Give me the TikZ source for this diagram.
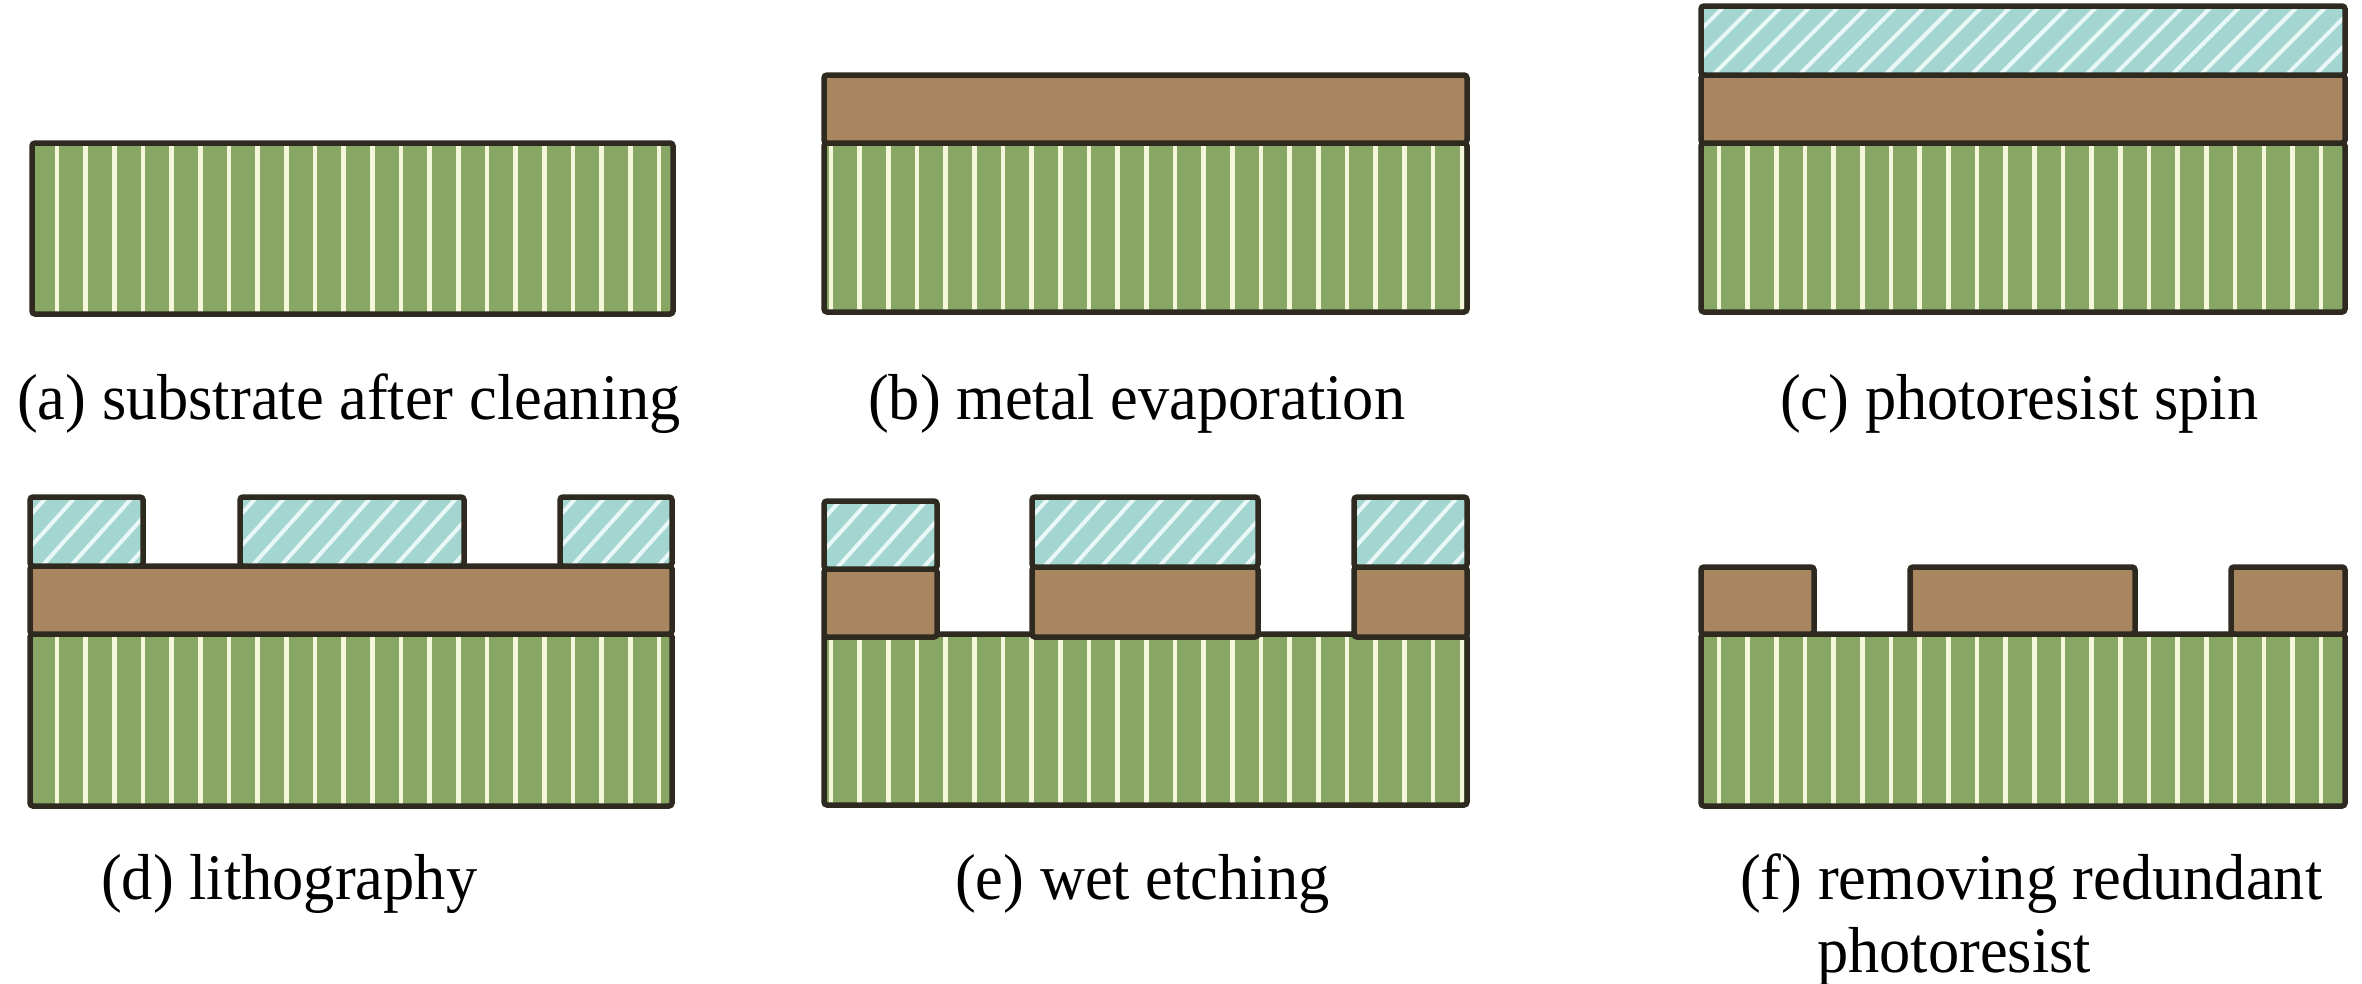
\documentclass[tikz,border=0pt]{standalone}
\usepackage{fontspec}
\setmainfont[FakeStretch=0.96]{Liberation Serif}
\definecolor{edge}{HTML}{2E2A20}
\definecolor{subfill}{HTML}{88A765}
\definecolor{substripe}{HTML}{F4F7DA}
\definecolor{metalfill}{HTML}{A78660}
\definecolor{resistfill}{HTML}{A3D6D0}
\definecolor{resistline}{HTML}{EAF7F7}
\newcommand{\subst}[5]{% x0 y0 x1 y1 firststripe
  \begin{scope}
    \clip (#1,#2) rectangle (#3,#4);
    \fill[subfill] (#1,#2) rectangle (#3,#4);
    \pgfmathsetmacro{\stripeB}{#5+28.67}
    \foreach \sx in {#5,\stripeB,...,#3} \draw[stripeline] (\sx,#2) -- (\sx,#4);
  \end{scope}
  \draw[layeredge] (#1,#2) rectangle (#3,#4);
}
\newcommand{\metal}[4]{\draw[layeredge,fill=metalfill] (#1,#2) rectangle (#3,#4);}
\newcommand{\resist}[5]{% x0 y0 x1 y1 run-per-rise
  \begin{scope}
    \clip (#1,#2) rectangle (#3,#4);
    \fill[resistfill] (#1,#2) rectangle (#3,#4);
    \pgfmathsetmacro{\hatchA}{#1-102.7}
    \pgfmathsetmacro{\hatchB}{\hatchA+28.67}
    \pgfmathsetmacro{\hatchR}{90*#5}
    \foreach \hx in {\hatchA,\hatchB,...,#3} \draw[hatchline] (\hx,#4) -- ++(\hatchR,-90);
  \end{scope}
  \draw[layeredge] (#1,#2) rectangle (#3,#4);
}
\begin{document}
\begin{tikzpicture}[x=1pt,y=-1pt,
  layeredge/.style={draw=edge,line width=5.5pt,rounded corners=3pt},
  stripeline/.style={draw=substripe,line width=4.5pt},
  hatchline/.style={draw=resistline,line width=4pt},
  caption/.style={anchor=base west,inner sep=0pt,text=black,font=\fontsize{65}{76}\selectfont}]
\useasboundingbox[fill=white] (0,0) rectangle (2362,983);
% (a)
\subst{32}{143}{673}{314}{57}
% (b)
\subst{824}{143}{1467}{312}{831}
\metal{824}{75}{1467}{143}
% (c)
\subst{1701}{143}{2345}{312}{1719}
\metal{1701}{75}{2345}{143}
\resist{1701}{6}{2345}{75}{1}
% (d)
\subst{30}{634}{672}{806}{57}
\metal{30}{566}{672}{634}
\resist{30}{497}{143}{566}{0.9}
\resist{240}{497}{464}{566}{0.9}
\resist{560}{497}{672}{566}{0.9}
% (e)
\subst{824}{634}{1467}{805}{831}
\metal{824}{569}{937}{637}
\metal{1032}{567}{1258}{637}
\metal{1354}{567}{1467}{637}
\resist{824}{501}{937}{569}{0.9}
\resist{1032}{497}{1258}{567}{0.9}
\resist{1354}{497}{1467}{567}{0.9}
% (f)
\subst{1701}{634}{2345}{806}{1719}
\metal{1701}{567}{1814}{634}
\metal{1910}{567}{2135}{634}
\metal{2231}{567}{2345}{634}
% captions
\node[caption] (capa) at (17,419) {(a) substrate after cleaning};
\node[caption] (capb) at (868,419) {(b) metal evaporation};
\node[caption] (capc) at (1780,419) {(c) photoresist spin};
\node[caption] (capd) at (101,899) {(d) lithography};
\node[caption] (cape) at (955,899) {(e) wet etching};
\node[caption] (capf) at (1740,899) {(f) removing redundant};
\node[caption] (capg) at (1817,972) {photoresist};
\end{tikzpicture}
\end{document}
